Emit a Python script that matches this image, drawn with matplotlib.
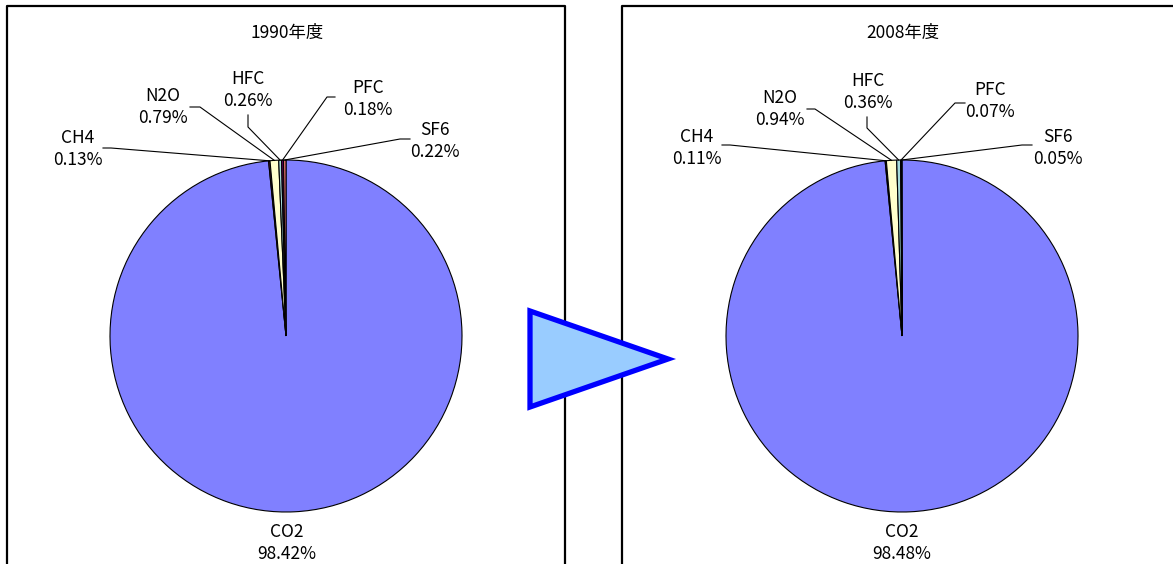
import numpy as np
import matplotlib.pyplot as plt
from matplotlib.patches import Polygon

plt.rcParams['font.family'] = ['Noto Sans CJK JP', 'DejaVu Sans']

gases = ['CO2', 'CH4', 'N2O', 'HFC', 'PFC', 'SF6']
share_1990 = [98.42, 0.13, 0.79, 0.26, 0.18, 0.22]
share_2008 = [98.48, 0.11, 0.94, 0.36, 0.07, 0.05]
titles = ['1990年度', '2008年度']
colors = ['#8080FF', '#993366', '#FFFFCC', '#A6DCDC', '#660066', '#FF8080']

W, H = 1173, 564

def P(x, y):
    # pixel position (from top-left) -> data coords
    return x, H - y

# label layout per pie: text centre, leader start, leader bend
layout_left = {
    'CH4': ((78, 149), (103, 148), (111, 148)),
    'N2O': ((163, 107), (190, 107), (200, 107)),
    'HFC': ((248, 90), (248, 115), (248, 127)),
    'PFC': ((368, 99), (335, 97), (327, 97)),
    'SF6': ((435, 141), (410, 139), (400, 139)),
    'CO2': ((287, 543), None, None),
}
layout_right = {
    'CH4': ((697, 148), (722, 145), (730, 145)),
    'N2O': ((780, 109), (807, 109), (815, 109)),
    'HFC': ((868, 92), (867, 117), (867, 128)),
    'PFC': ((990, 101), (965, 103), (955, 103)),
    'SF6': ((1058, 148), (1032, 145), (1022, 145)),
    'CO2': ((902, 543), None, None),
}

fig = plt.figure(figsize=(W / 100, H / 100), dpi=100)
ax = fig.add_axes([0, 0, 1, 1])

# panel frames (cut at the bottom edge)
ax.plot([7, 7, 565, 565], [0, H - 6, H - 6, 0], color='black', lw=1.6, zorder=1)
ax.plot([622, 622, W + 5], [0, H - 6, H - 6], color='black', lw=1.6, zorder=1)

panels = [(share_1990, (286, 336), layout_left, titles[0]),
          (share_2008, (902, 336), layout_right, titles[1])]
R = 176
for vals, (cx, cy), lay, title in panels:
    c = P(cx, cy)
    wedges, _ = ax.pie(vals, colors=colors, startangle=90, counterclock=False,
                       center=c, radius=R,
                       wedgeprops=dict(edgecolor='black', linewidth=0.8))
    ax.text(*P(cx + 1, 33), title, ha='center', va='center', fontsize=12.5)
    for g, v, w in zip(gases, vals, wedges):
        (tx, ty), start, bend = lay[g]
        ax.text(*P(tx, ty), f'{g}\n{v:.2f}%', ha='center', va='center',
                fontsize=12.5, linespacing=1.25)
        if start is None:
            continue
        mid = np.deg2rad((w.theta1 + w.theta2) / 2)
        ex, ey = c[0] + R * np.cos(mid), c[1] + R * np.sin(mid)
        sx, sy = P(*start)
        bx, by = P(*bend)
        ax.plot([sx, bx, ex], [sy, by, ey], color='black', lw=0.8, zorder=5)

# arrow triangle between the panels
tri = Polygon([P(530, 311), P(530, 407), P(668, 359)], closed=True,
              facecolor='#99CCFF', edgecolor='#0000FF', linewidth=3.8,
              joinstyle='miter', zorder=10)
ax.add_patch(tri)

ax.set_xlim(0, W)
ax.set_ylim(0, H)
ax.set_aspect('auto')
ax.axis('off')

fig.savefig('out.png', dpi=100)
